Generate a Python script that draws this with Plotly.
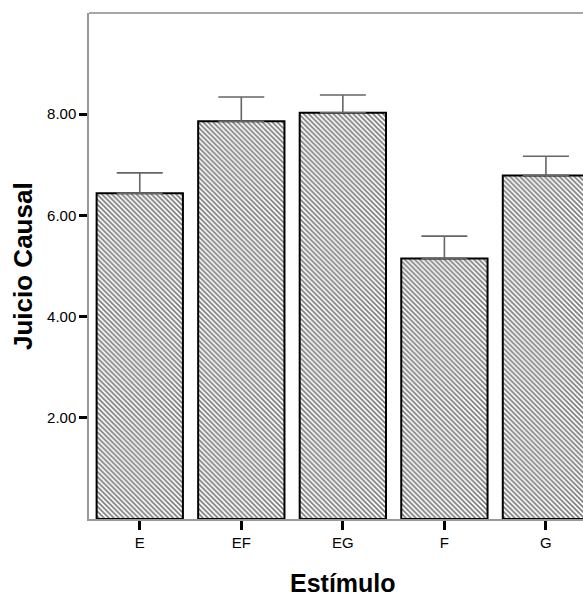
import plotly.graph_objects as go

categories = ["E", "EF", "EG", "F", "G"]
means = [6.44, 7.86, 8.03, 5.15, 6.79]
errors = [0.40, 0.48, 0.35, 0.44, 0.38]
ytick_vals = [2, 4, 6, 8]
ytick_text = ["2.00", "4.00", "6.00", "8.00"]

fig = go.Figure()
fig.add_trace(go.Bar(
    x=list(range(len(categories))),
    y=means,
    width=0.85,
    marker=dict(
        color="white",
        line=dict(color="black", width=2),
        pattern=dict(shape="\\", fgcolor="black", bgcolor="white", size=3.5, solidity=0.5),
    ),
    error_y=dict(type="data", array=errors, arrayminus=[0]*len(errors), symmetric=False,
                 color="#666666", thickness=1.6, width=23),
    hoverinfo="skip",
))

fig.update_layout(
    width=583, height=596,
    margin=dict(l=89, r=0, t=13, b=77),
    paper_bgcolor="white", plot_bgcolor="white",
    showlegend=False,
    font=dict(family="Liberation Sans, Arial", color="black"),
    xaxis=dict(
        range=[-0.5, 4.365],
        tickmode="array", tickvals=list(range(len(categories))), ticktext=categories,
        ticks="outside", ticklen=9, tickwidth=3, tickcolor="black",
        showline=True, linecolor="#999999", linewidth=1.5,
        showgrid=False, zeroline=False,
        tickfont=dict(size=15, family="Liberation Sans, Arial"),
    ),
    yaxis=dict(
        range=[0, 10],
        tickmode="array", tickvals=ytick_vals, ticktext=ytick_text,
        ticks="outside", ticklen=8, tickwidth=3, tickcolor="black",
        showline=True, linecolor="#999999", linewidth=1.5,
        showgrid=False, zeroline=False,
        tickfont=dict(size=15, family="Liberation Sans, Arial"),
    ),
    shapes=[dict(type="line", xref="paper", yref="paper", x0=0, x1=1, y0=1, y1=1,
                 line=dict(color="#888888", width=1.5))],
    annotations=[
        dict(text="<b>Juicio Causal</b>", xref="paper", yref="paper",
             x=(23 - 89) / 494, y=0.5, textangle=-90, showarrow=False,
             xanchor="center", yanchor="middle",
             font=dict(size=26, family="Liberation Sans, Arial", color="black")),
        dict(text="<b>Estímulo</b>", xref="paper", yref="paper",
             x=(343 - 89) / 494, y=(519 - 583) / 506, showarrow=False,
             xanchor="center", yanchor="middle",
             font=dict(size=25, family="Liberation Sans, Arial", color="black")),
    ],
)

fig.write_html("out.html")
